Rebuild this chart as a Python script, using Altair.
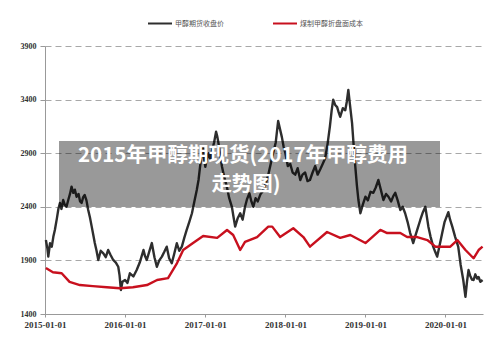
import altair as alt
import pandas as pd

# 甲醇期货收盘价
fut_dates = [
    "2015-01-05", "2015-01-12", "2015-01-16", "2015-01-24", "2015-02-01", "2015-02-08",
    "2015-02-15", "2015-02-24", "2015-03-03", "2015-03-10", "2015-03-17", "2015-03-25",
    "2015-04-01", "2015-04-09", "2015-04-18", "2015-04-25", "2015-05-02", "2015-05-10",
    "2015-05-17", "2015-05-25", "2015-06-03", "2015-06-10", "2015-06-17", "2015-06-24",
    "2015-07-01", "2015-07-09", "2015-07-17", "2015-07-25", "2015-08-02", "2015-08-09",
    "2015-08-16", "2015-08-24", "2015-09-01", "2015-09-12", "2015-09-24", "2015-10-05",
    "2015-10-16", "2015-10-27", "2015-11-08", "2015-11-20", "2015-12-01", "2015-12-07",
    "2015-12-13", "2015-12-20", "2016-01-01", "2016-01-12", "2016-01-23", "2016-02-08",
    "2016-02-23", "2016-03-08", "2016-03-25", "2016-04-01", "2016-04-09", "2016-04-20",
    "2016-05-02", "2016-05-14", "2016-05-25", "2016-06-05", "2016-06-17", "2016-06-28",
    "2016-07-09", "2016-07-20", "2016-08-01", "2016-08-12", "2016-08-24", "2016-09-04",
    "2016-09-16", "2016-09-27", "2016-10-08", "2016-10-20", "2016-11-01", "2016-11-12",
    "2016-11-23", "2016-12-01", "2016-12-08", "2016-12-14", "2016-12-20", "2016-12-26",
    "2017-01-01", "2017-01-08", "2017-01-16", "2017-01-24", "2017-02-01", "2017-02-10",
    "2017-02-19", "2017-02-24", "2017-03-02", "2017-03-10", "2017-03-18", "2017-03-28",
    "2017-04-09", "2017-04-20", "2017-05-02", "2017-05-10", "2017-05-17", "2017-05-28",
    "2017-06-09", "2017-06-20", "2017-07-01", "2017-07-10", "2017-07-21", "2017-07-30",
    "2017-08-08", "2017-08-18", "2017-08-28", "2017-09-10", "2017-09-22", "2017-10-04",
    "2017-10-15", "2017-10-26", "2017-11-06", "2017-11-18", "2017-11-29", "2017-12-08",
    "2017-12-16", "2017-12-24", "2018-01-01", "2018-01-12", "2018-01-23", "2018-02-03",
    "2018-02-15", "2018-02-26", "2018-03-10", "2018-03-20", "2018-04-01", "2018-04-12",
    "2018-04-23", "2018-05-05", "2018-05-17", "2018-05-28", "2018-06-09", "2018-06-20",
    "2018-07-01", "2018-07-12", "2018-07-23", "2018-07-31", "2018-08-07", "2018-08-16",
    "2018-08-25", "2018-09-01", "2018-09-08", "2018-09-20", "2018-10-01", "2018-10-08",
    "2018-10-15", "2018-10-22", "2018-11-01", "2018-11-08", "2018-11-16", "2018-11-23",
    "2018-11-30", "2018-12-09", "2018-12-20", "2019-01-01", "2019-01-12", "2019-01-24",
    "2019-02-06", "2019-02-17", "2019-03-01", "2019-03-12", "2019-03-24", "2019-04-05",
    "2019-04-16", "2019-04-28", "2019-05-08", "2019-05-17", "2019-05-28", "2019-06-09",
    "2019-06-20", "2019-07-01", "2019-07-12", "2019-07-24", "2019-08-07", "2019-08-15",
    "2019-08-25", "2019-09-08", "2019-09-20", "2019-10-01", "2019-10-15", "2019-10-25",
    "2019-11-06", "2019-11-15", "2019-11-24", "2019-12-05", "2019-12-17", "2019-12-28",
    "2020-01-14", "2020-01-22", "2020-02-01", "2020-02-14", "2020-02-28", "2020-03-10",
    "2020-03-22", "2020-04-01", "2020-04-08", "2020-04-15", "2020-04-22", "2020-05-01",
    "2020-05-08", "2020-05-16", "2020-05-24", "2020-05-31", "2020-06-08", "2020-06-18",
]
fut_values = [
    2090, 2010, 1935, 2060, 2028, 2120,
    2184, 2290, 2380, 2436, 2380, 2463,
    2420, 2400, 2470, 2520, 2588, 2530,
    2560, 2494, 2520, 2450, 2436, 2490,
    2510, 2460, 2370, 2300, 2215, 2140,
    2062, 1990, 1904, 1990, 1966, 1930,
    1997, 1950, 1904, 1880, 1841, 1760,
    1624, 1700, 1717, 1690, 1780, 1750,
    1810, 1880, 1997, 1940, 1904, 1980,
    2062, 1930, 1841, 1900, 1935, 1980,
    2028, 1920, 1873, 1960, 2060, 1990,
    2028, 2110, 2184, 2260, 2340, 2450,
    2557, 2650, 2774, 2870, 2961, 2860,
    2774, 2850, 2899, 2840, 2930, 3000,
    3100, 3060, 2992, 2880, 2774, 2680,
    2588, 2480, 2400, 2300, 2215, 2290,
    2340, 2280, 2400, 2470, 2526, 2450,
    2400, 2480, 2450, 2520, 2550, 2620,
    2700, 2800, 2900, 3000, 3200, 3120,
    3050, 2960, 2900, 2780, 2800, 2720,
    2700, 2760, 2650, 2700, 2720, 2640,
    2650, 2720, 2780, 2700, 2750, 2800,
    2850, 2980, 3150, 3300, 3400, 3350,
    3330, 3280, 3240, 3320, 3300, 3380,
    3490, 3360, 3180, 2980, 2770, 2600,
    2463, 2340, 2420, 2494, 2460, 2540,
    2530, 2580, 2650, 2560, 2463, 2520,
    2494, 2450, 2500, 2530, 2460, 2370,
    2400, 2340, 2260, 2155, 2062, 2120,
    2184, 2277, 2350, 2400, 2215, 2120,
    2028, 1980, 1935, 2040, 2155, 2260,
    2350, 2280, 2215, 2120, 2028, 1860,
    1717, 1560, 1700, 1810, 1760, 1720,
    1717, 1770, 1730, 1745, 1700, 1717,
]

# 煤制甲醇折盘面成本
cost_dates = [
    "2015-01-05", "2015-02-06", "2015-03-18", "2015-04-23", "2015-06-09", "2015-08-07",
    "2015-10-10", "2015-12-08", "2016-02-06", "2016-04-10", "2016-05-26", "2016-07-15",
    "2016-08-25", "2016-09-22", "2016-11-06", "2016-12-22", "2017-02-24", "2017-04-10",
    "2017-05-08", "2017-06-09", "2017-07-01", "2017-08-25", "2017-10-15", "2017-11-02",
    "2017-12-08", "2018-02-06", "2018-03-24", "2018-04-23", "2018-07-10", "2018-09-08",
    "2018-10-24", "2019-01-01", "2019-02-01", "2019-03-10", "2019-04-10", "2019-06-09",
    "2019-07-10", "2019-08-25", "2019-10-10", "2019-11-16", "2020-01-23", "2020-02-24",
    "2020-04-01", "2020-05-08", "2020-05-31", "2020-06-18",
]
cost_values = [
    1830, 1790, 1780, 1700, 1670, 1660,
    1650, 1640, 1650, 1670, 1717, 1735,
    1875, 1997, 2062, 2128, 2110, 2184,
    2137, 1997, 2072, 2118, 2215, 2215,
    2118, 2200, 2118, 2028, 2165, 2110,
    2137, 2062, 2118, 2184, 2155, 2155,
    2118, 2118, 2090, 2028, 2028, 2090,
    1997, 1920, 1997, 2028,
]

series_names = ["甲醇期货收盘价", "煤制甲醇折盘面成本"]
series_colors = ["#2e2e2e", "#c8101e"]
y_ticks = [1400, 1900, 2400, 2900, 3400, 3900]
x_ticks = ["2015-01-01", "2016-01-01", "2017-01-01", "2018-01-01", "2019-01-01", "2020-01-01"]
title_lines = ["2015年甲醇期现货(2017年甲醇费用", "走势图)"]

df = pd.concat([
    pd.DataFrame({"date": pd.to_datetime(fut_dates), "value": fut_values, "series": series_names[0]}),
    pd.DataFrame({"date": pd.to_datetime(cost_dates), "value": cost_values, "series": series_names[1]}),
])

x_domain = [pd.Timestamp("2015-01-01").isoformat(), pd.Timestamp("2020-06-20").isoformat()]
tick_vals = [pd.Timestamp(t).isoformat() for t in x_ticks]

x_enc = alt.X(
    "date:T",
    scale=alt.Scale(domain=x_domain, nice=False),
    axis=alt.Axis(
        values=tick_vals, format="%Y-%m-%d", title=None, grid=False,
        labelFont="Liberation Serif", labelFontSize=9, labelFontWeight="bold",
        labelColor="#333", tickColor="#999", domainColor="#999", tickSize=3,
        labelPadding=3, labelFlush=False,
    ),
)
y_enc = alt.Y(
    "value:Q",
    scale=alt.Scale(domain=[1400, 3900], nice=False, zero=False),
    axis=alt.Axis(
        values=y_ticks, format="d", title=None, grid=True, gridDash=[6, 4], gridColor="#a8a8a8",
        gridWidth=1, labelFont="Liberation Serif", labelFontSize=8, labelFontWeight="bold",
        labelColor="#333", tickColor="#999", domainColor="#999", tickSize=5, labelPadding=4,
    ),
)

lines = alt.Chart(df).mark_line(strokeWidth=2.4, strokeJoin="round").encode(
    x=x_enc,
    y=y_enc,
    color=alt.Color("series:N", scale=alt.Scale(domain=series_names, range=series_colors), legend=None),
    detail="series:N",
)

# legend (manual)
leg_df = pd.DataFrame({"name": series_names, "color": series_colors,
                       "x0": [103, 228], "x1": [127, 252]})
leg_lines = alt.Chart(leg_df).mark_rule(strokeWidth=2).encode(
    x=alt.X("x0:Q", scale=None), x2="x1:Q",
    y=alt.value(-22.5),
    color=alt.Color("color:N", scale=None),
)
leg_text = alt.Chart(leg_df).transform_calculate(xt="datum.x1 + 3").mark_text(
    align="left", baseline="middle", fontSize=7, color="#555", font="Noto Sans CJK SC"
).encode(
    x=alt.X("xt:Q", scale=None), y=alt.value(-22.5), text="name:N",
)

# overlay banner
banner = alt.Chart(pd.DataFrame({"a": [0]})).mark_rect(color="black", opacity=0.4).encode(
    x=alt.value(14), x2=alt.value(395), y=alt.value(95), y2=alt.value(161),
)
title_df = pd.DataFrame({"t": title_lines, "yy": [110, 139], "xx": [198, 201]})
title_text = alt.Chart(title_df).mark_text(
    font="Noto Sans CJK SC", fontSize=20.5, fontWeight="bold", color="white",
    align="center", baseline="middle",
).encode(
    x=alt.X("xx:Q", scale=None), y=alt.Y("yy:Q", scale=None), text="t:N",
)

chart = alt.layer(lines, leg_lines, leg_text, banner, title_text).properties(
    width=438, height=268,
    padding={"left": 45, "top": 46, "right": 17, "bottom": 36},
    autosize=alt.AutoSizeParams(type="none"),
    background="white",
).configure_view(stroke=None)

chart.save("out.html", embed_options={"renderer": "svg", "actions": False})
